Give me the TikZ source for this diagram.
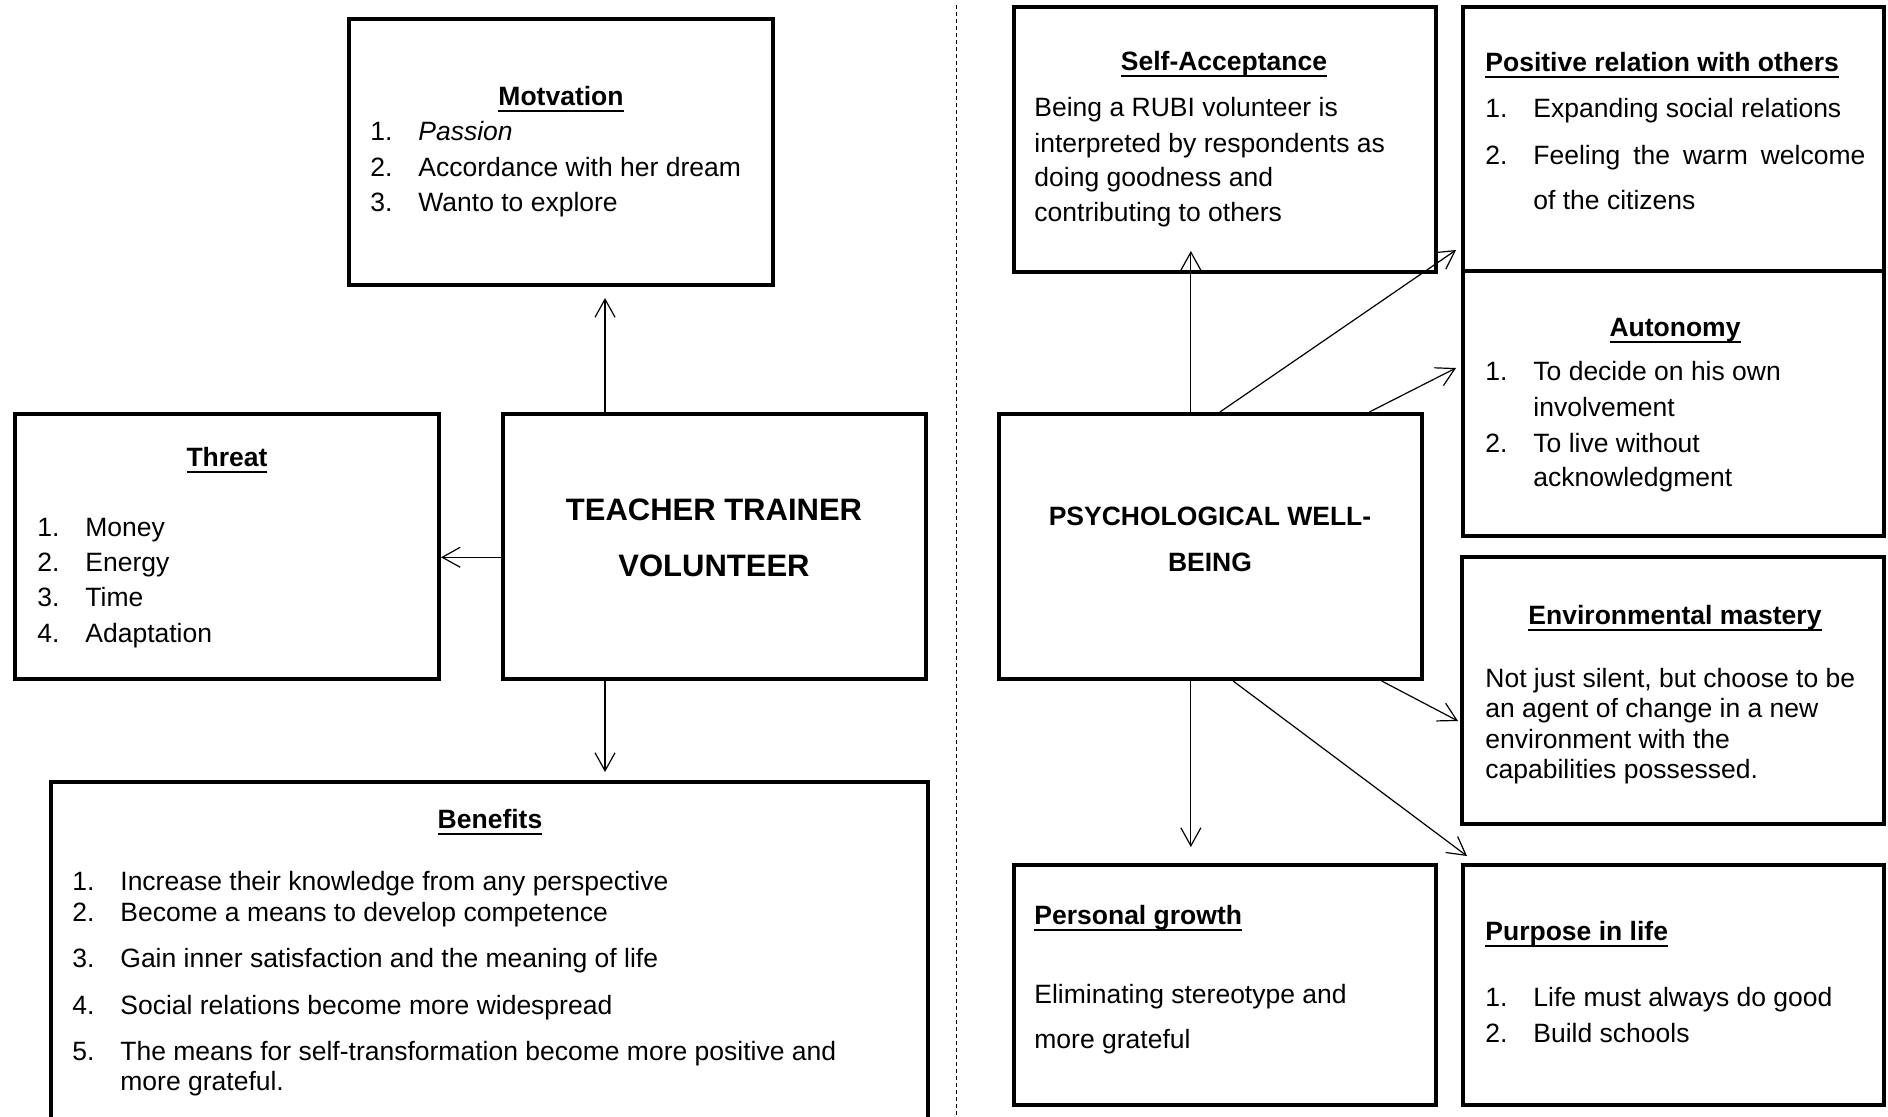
\documentclass[tikz,border=0pt]{standalone}
\usepackage{fontspec}
\setmainfont{Liberation Sans}
\usetikzlibrary{arrows.meta,fit,calc}
\newcommand\ulx[1]{\setbox0\hbox{#1}\rlap{\rule[-3.5pt]{\wd0}{1pt}}\box0}
\newcommand\itemno[1]{\makebox[24pt][l]{#1}}
\begin{document}
\begin{tikzpicture}[x=0.5pt,y=-0.5pt,
  box/.style={draw, line width=2pt, inner sep=0pt},
  txt/.style={inner sep=0pt, anchor=base west, font=\fontsize{13.25}{16}\selectfont},
  ttl/.style={inner sep=0pt, anchor=base, font=\fontsize{13.25}{16}\selectfont\bfseries},
  ttlw/.style={ttl, anchor=base west},
  big/.style={inner sep=0pt, anchor=base, font=\fontsize{15.5}{18}\selectfont\bfseries},
  arr/.style={-{Straight Barb[length=9pt,width=10pt]}, line width=0.6pt}]
\useasboundingbox (0,0) rectangle (1888,1116);

% ---------- boxes ----------
\node[box, fit={(349,19) (773,285)}] (mot) {};
\node[box, fit={(15,414) (439,679)}] (thr) {};
\node[box, fit={(503,414) (926,679)}] (tea) {};
\node[box, fit={(51,782) (928,1130)}] (ben) {};
\node[box, fit={(1014,7) (1436,272)}] (sa) {};
\node[box, fit={(1463,7) (1884,271)}] (pr) {};
\node[box, fit={(1463,271) (1884,536)}] (au) {};
\node[box, fit={(1462,557) (1884,824)}] (em) {};
\node[box, fit={(999,414) (1422,679)}] (pwb) {};
\node[box, fit={(1014,865) (1436,1105)}] (pg) {};
\node[box, fit={(1463,865) (1884,1105)}] (pl) {};

% ---------- divider ----------
\draw[dash pattern=on 2pt off 1.5pt, line width=0.5pt] (956,5) -- (956,1120);

% ---------- left texts ----------
\node[ttl] (motT) at (561,105) {\ulx{Motvation}};
\node[txt] (mot1) at (370,140) {\itemno{1.}\textit{Passion}};
\node[txt] (mot2) at (370,176) {\itemno{2.}Accordance with her dream};
\node[txt] (mot3) at (370,211) {\itemno{3.}Wanto to explore};

\node[ttl] (thrT) at (227,466) {\ulx{Threat}};
\node[txt] (thr1) at (37,536) {\itemno{1.}Money};
\node[txt] (thr2) at (37,571) {\itemno{2.}Energy};
\node[txt] (thr3) at (37,606) {\itemno{3.}Time};
\node[txt] (thr4) at (37,642) {\itemno{4.}Adaptation};

\node[big] (tea1) at (714,520) {TEACHER TRAINER};
\node[big] (tea2) at (714,576) {VOLUNTEER};

\node[ttl] (benT) at (490,828) {\ulx{Benefits}};
\node[txt] (ben1) at (72,890) {\itemno{1.}Increase their knowledge from any perspective};
\node[txt] (ben2) at (72,921) {\itemno{2.}Become a means to develop competence};
\node[txt] (ben3) at (72,967) {\itemno{3.}Gain inner satisfaction and the meaning of life};
\node[txt] (ben4) at (72,1014) {\itemno{4.}Social relations become more widespread};
\node[txt] (ben5) at (72,1060) {\itemno{5.}The means for self-transformation become more positive and};
\node[txt] (ben6) at (72,1090) {\hspace*{24pt}more grateful.};

% ---------- right texts ----------
\node[ttl] (saT) at (1224,70) {\ulx{Self-Acceptance}};
\node[txt] (sa1) at (1034,116) {Being a RUBI volunteer is};
\node[txt] (sa2) at (1034,152) {interpreted by respondents as};
\node[txt] (sa3) at (1034,186) {doing goodness and};
\node[txt] (sa4) at (1034,221) {contributing to others};

\node[ttlw] (prT) at (1485,71) {\ulx{Positive relation with others}};
\node[txt] (pr1) at (1485,117) {\itemno{1.}Expanding social relations};
\node[txt] (pr2) at (1485,164) {\itemno{2.}\makebox[166pt][s]{Feeling the warm welcome}};
\node[txt] (pr3) at (1485,209) {\hspace*{24pt}of the citizens};

\node[ttl] (auT) at (1675,336) {\ulx{Autonomy}};
\node[txt] (au1) at (1485,380) {\itemno{1.}To decide on his own};
\node[txt] (au2) at (1485,416) {\hspace*{24pt}involvement};
\node[txt] (au3) at (1485,452) {\itemno{2.}To live without};
\node[txt] (au4) at (1485,486) {\hspace*{24pt}acknowledgment};

\node[ttl] (pwb1) at (1210,525) {PSYCHOLOGICAL WELL-};
\node[ttl] (pwb2) at (1210,571) {BEING};

\node[ttl] (emT) at (1675,624) {\ulx{Environmental mastery}};
\node[txt] (em1) at (1485,687) {Not just silent, but choose to be};
\node[txt] (em2) at (1485,717) {an agent of change in a new};
\node[txt] (em3) at (1485,748) {environment with the};
\node[txt] (em4) at (1485,778) {capabilities possessed.};

\node[ttlw] (pgT) at (1034,924) {\ulx{Personal growth}};
\node[txt] (pg1) at (1034,1003) {Eliminating stereotype and};
\node[txt] (pg2) at (1034,1048) {more grateful};

\node[ttlw] (plT) at (1485,940) {\ulx{Purpose in life}};
\node[txt] (pl1) at (1485,1006) {\itemno{1.}Life must always do good};
\node[txt] (pl2) at (1485,1042) {\itemno{2.}Build schools};

% ---------- connectors left ----------
\coordinate (tN) at ($(tea.north west)!0.2436!(tea.north east)$);
\coordinate (tS) at ($(tea.south west)!0.2436!(tea.south east)$);
\coordinate (tW) at ($(tea.north west)!0.54!(tea.south west)$);
\draw[arr, shorten >=5.5pt] (tN) -- (tN |- mot.south);
\draw[arr, shorten >=4pt] (tS) -- (tS |- ben.north);
\draw[arr] (tW) -- (tW -| thr.east);

% ---------- connectors right ----------
\coordinate (pN1) at ($(pwb.north west)!0.454!(pwb.north east)$);
\coordinate (pN2) at ($(pwb.north west)!0.522!(pwb.north east)$);
\coordinate (pN3) at ($(pwb.north west)!0.872!(pwb.north east)$);
\coordinate (pS1) at ($(pwb.south west)!0.454!(pwb.south east)$);
\coordinate (pS2) at ($(pwb.south west)!0.553!(pwb.south east)$);
\coordinate (pS3) at ($(pwb.south west)!0.901!(pwb.south east)$);
\coordinate (prTip) at ($(pr.south west)+(-5,-23)$);
\coordinate (auTip) at ($(au.north west)+(-5,99)$);
\coordinate (emTip) at ($(em.north west)+(-2,166)$);
\coordinate (plTip) at ($(pl.north west)+(6,-7)$);
\draw[arr, shorten >=-11.5pt] (pN1) -- (pN1 |- sa.south);
\draw[arr] (pN2) -- (prTip);
\draw[arr] (pN3) -- (auTip);
\draw[arr] (pS3) -- (emTip);
\draw[arr] (pS2) -- (plTip);
\draw[arr, shorten >=8pt] (pS1) -- (pS1 |- pg.north);
\end{tikzpicture}
\end{document}
